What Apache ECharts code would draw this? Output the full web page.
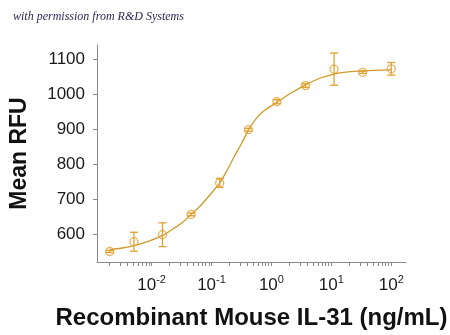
<!DOCTYPE html>
<html>
<head>
<meta charset="utf-8">
<script src="https://cdn.jsdelivr.net/npm/echarts@6/dist/echarts.min.js"></script>
<style>html,body{margin:0;padding:0;background:#fff}#c{width:450px;height:335px}</style>
</head>
<body>
<div id="c"></div>
<script>
// ---- data ----
const conc = [0.002, 0.00508, 0.0152, 0.0457, 0.137, 0.412, 1.23, 3.70, 11.1, 33.3, 100];
const meanRFU = [552, 580, 600, 658, 748, 900, 980, 1026, 1073, 1064, 1074];
const errRFU = [3, 27, 34, 4, 13, 4, 6, 5, 46, 3, 18];
const curveConc = [0.002, 0.0032, 0.00508, 0.0088, 0.0152, 0.025, 0.0342, 0.0457, 0.063, 0.0824, 0.137, 0.182, 0.241, 0.316, 0.412, 0.537, 0.703, 1.23, 2.1, 3.7, 6.4, 11.1, 19, 33.3, 100];
const curveRFU = [557, 562, 569, 581, 598, 621, 638, 658, 680, 702, 748, 784, 824, 860, 899, 928, 950, 978, 1004, 1028, 1047, 1059, 1065, 1068, 1071];
const xTickExponents = [-2, -1, 0, 1, 2];
const yTickValues = [600, 700, 800, 900, 1000, 1100];

const L = Math.log10;
const minorTicks = [];
for (let e = -3; e <= 1; e++) for (let k = 1; k <= 9; k++) minorTicks.push(L(k * Math.pow(10, e)));
minorTicks.push(2);

const markerColor = '#E3A02E';
const curveColor = '#CF9A2A';
const axisColor = '#8a8a8a';

const chart = echarts.init(document.getElementById('c'), null, {renderer: 'canvas'});
chart.setOption({
  animation: false,
  title: {
    text: 'with permission from R&D Systems',
    left: 8, top: 6,
    textStyle: {fontFamily: 'Liberation Serif', fontStyle: 'italic', fontWeight: 'normal', fontSize: 12, color: '#2a2a55'}
  },
  grid: {left: 92, right: 44, top: 45, bottom: 72},
  xAxis: {
    type: 'value', min: -2.911, max: 2.246,
    axisLine: {onZero: false, lineStyle: {color: axisColor, width: 1}},
    axisTick: {show: true, length: 4, lineStyle: {color: axisColor}, customValues: minorTicks.filter(v => v > -2.911 && v <= 2.0001)},
    splitLine: {show: false},
    axisLabel: {
      customValues: xTickExponents, margin: 12, color: '#1a1a1a',
      formatter: v => '{b|10}{s|' + v + '}',
      rich: {
        b: {fontFamily: 'Liberation Sans', fontSize: 17, lineHeight: 20, verticalAlign: 'bottom', color: '#1a1a1a'},
        s: {fontFamily: 'Liberation Sans', fontSize: 11, lineHeight: 12, verticalAlign: 'top', color: '#1a1a1a'}
      }
    },
    name: 'Recombinant Mouse IL-31 (ng/mL)', nameLocation: 'middle', nameGap: 44,
    nameTextStyle: {fontFamily: 'Liberation Sans', fontWeight: 'bold', fontSize: 24, color: '#111'}
  },
  yAxis: {
    type: 'value', min: 522, max: 1142,
    axisLine: {show: true, onZero: false, lineStyle: {color: axisColor, width: 1}},
    axisTick: {show: true, length: 4, lineStyle: {color: axisColor}, customValues: yTickValues},
    splitLine: {show: false},
    axisLabel: {customValues: yTickValues, margin: 12, fontFamily: 'Liberation Sans', fontSize: 17, color: '#1a1a1a', formatter: v => String(v)},
    name: 'Mean RFU', nameLocation: 'middle', nameRotate: 90, nameGap: 66,
    nameTextStyle: {fontFamily: 'Liberation Sans', fontWeight: 'bold', fontSize: 23, color: '#111'}
  },
  series: [
    {
      type: 'line', data: curveConc.map((c, i) => [L(c), curveRFU[i]]),
      smooth: 0.35, showSymbol: false, symbol: 'none',
      lineStyle: {color: curveColor, width: 1.3}, z: 2
    },
    {
      type: 'custom', z: 3,
      data: conc.map((c, i) => [L(c), meanRFU[i] - errRFU[i], meanRFU[i] + errRFU[i]]),
      encode: {x: 0, y: [1, 2]},
      renderItem: (params, api) => {
        const x = api.value(0);
        const lo = api.coord([x, api.value(1)]);
        const hi = api.coord([x, api.value(2)]);
        const hw = 4;
        const st = {stroke: markerColor, lineWidth: 1.3};
        return {type: 'group', children: [
          {type: 'line', shape: {x1: hi[0], y1: hi[1], x2: lo[0], y2: lo[1]}, style: st},
          {type: 'line', shape: {x1: hi[0] - hw, y1: hi[1], x2: hi[0] + hw, y2: hi[1]}, style: st},
          {type: 'line', shape: {x1: lo[0] - hw, y1: lo[1], x2: lo[0] + hw, y2: lo[1]}, style: st}
        ]};
      }
    },
    {
      type: 'scatter', z: 4,
      data: conc.map((c, i) => [L(c), meanRFU[i]]),
      symbol: 'circle', symbolSize: 8,
      itemStyle: {color: 'rgba(255,255,255,0)', borderColor: markerColor, borderWidth: 1.3}
    }
  ]
});
</script>
</body>
</html>
